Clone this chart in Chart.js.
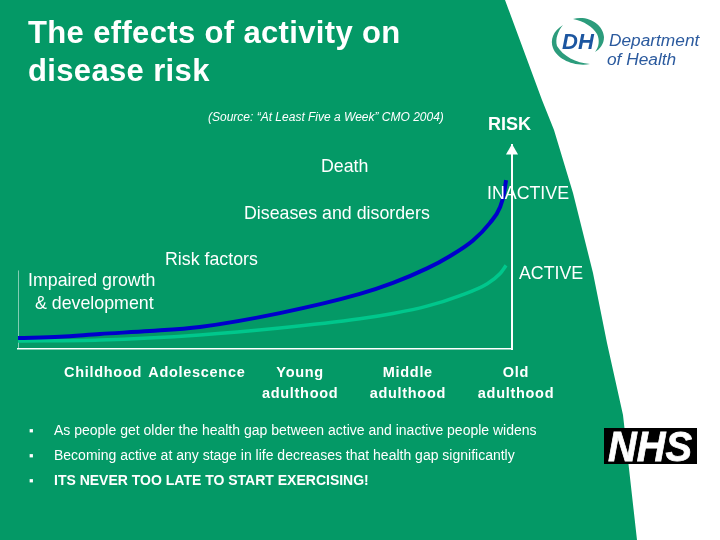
<!DOCTYPE html>
<html><head><meta charset="utf-8">
<style>
html,body{margin:0;padding:0;background:#fff;width:720px;height:540px;overflow:hidden}
#wrap{position:relative;width:720px;height:540px;font-family:"Liberation Sans",Arial,sans-serif;color:#fff;overflow:hidden}
#bg{position:absolute;inset:0;background:#049966;clip-path:polygon(0 0,505px 0,542px 100px,554px 130px,573px 193px,593px 273px,607px 343px,623px 415px,637px 540px,0 540px)}
canvas{position:absolute;left:0;top:0}
.t{position:absolute;white-space:nowrap;transform:translateY(-50%);line-height:1}
svg{position:absolute;left:0;top:0}
</style></head><body>
<div id="wrap"><div id="bg"></div><canvas id="c" width="720" height="540"></canvas><div id="txt"></div>
<svg width="720" height="540" viewBox="0 0 720 540">
<path d="M563 25 C553 31 550 40 553 48 C557 59 574 67 590 64 C576 63 563 56 557 46 C555 39 558 31 563 25Z" fill="#2c9c7c"/>
<path d="M573 19 C588 15 603 24 604 37 C604 44 600 49 595 52 C599 47 600 40 597 34 C593 27 584 21 573 19Z" fill="#2c9c7c"/>
<text x="578" y="49" font-family="Liberation Sans" font-weight="bold" font-style="italic" font-size="22" fill="#1c56a0" text-anchor="middle">DH</text>
<text x="609" y="46" font-family="Liberation Sans" font-style="italic" font-size="17.3" fill="#2b5a9e">Department</text>
<text x="607" y="65" font-family="Liberation Sans" font-style="italic" font-size="17.3" fill="#2b5a9e">of Health</text>
<rect x="604" y="428" width="93" height="36" fill="#000"/>
<text x="650" y="461" font-family="Liberation Sans" font-weight="bold" font-style="italic" font-size="43" fill="#fff" stroke="#fff" stroke-width=".8" text-anchor="middle" textLength="84" lengthAdjust="spacingAndGlyphs">NHS</text>
</svg></div>
<script src="https://cdn.jsdelivr.net/npm/chart.js@4/dist/chart.umd.min.js"></script>
<script>
const lifeStagePositions = [16.4, 35.4, 56.3, 78.1, 100];
const lifeStageLabels = [["Childhood"], ["Adolescence"], ["Young", "adulthood"], ["Middle", "adulthood"], ["Old", "adulthood"]];
const inactiveAge = [0, 8.5, 16.6, 26.7, 36.8, 53, 69.2, 75.9, 82.8, 87.4, 92.1, 95.5, 97.6, 98.4, 98.8];
const inactiveRisk = [5.4, 6, 7.4, 8.8, 10.8, 17.6, 27, 32.4, 39.5, 45.5, 53.2, 61.7, 69.6, 76.5, 82.8];
const activeAge = [0, 16.6, 36.8, 53, 69.2, 75.9, 82.8, 89.5, 95, 97.6, 98.8];
const activeRisk = [3.9, 4.4, 6.9, 10.3, 14.8, 17.4, 21, 26.2, 32, 37, 41];
const pair = (xs, ys) => xs.map((x, i) => ({x, y: ys[i]}));

const slideTexts = [
 ["The effects of activity on", 28, 33, "bold 31px", .35],
 ["disease risk", 28, 71, "bold 31px", .35],
 ["(Source: \u201cAt Least Five a Week\u201d CMO 2004)", 208, 117, "italic 12px", 0],
 ["RISK", 488, 124, "bold 18px", 0],
 ["Death", 321, 166, "17.8px", 0],
 ["INACTIVE", 487, 193, "17.8px", 0],
 ["Diseases and disorders", 244, 213, "17.8px", 0],
 ["Risk factors", 165, 259, "17.8px", 0],
 ["ACTIVE", 519, 273, "17.8px", 0],
 ["Impaired growth", 28, 280, "17.8px", 0],
 ["& development", 35, 303, "17.8px", 0],
 ["\u25AA", 29, 430, "13px", 0],
 ["As people get older the health gap between active and inactive people widens", 54, 430, "14px", 0],
 ["\u25AA", 29, 455, "13px", 0],
 ["Becoming active at any stage in life decreases that health gap significantly", 54, 455, "14px", 0],
 ["\u25AA", 29, 480, "13px", 0],
 ["ITS NEVER TOO LATE TO START EXERCISING!", 54, 480, "bold 14px", 0]
];
const box = document.getElementById('txt');
slideTexts.forEach(([s, x, y, f, ls]) => {
  const e = document.createElement('div'); e.className = 't'; e.textContent = s;
  e.style.left = x + 'px'; e.style.top = y + 'px';
  e.style.font = f + ' "Liberation Sans",Arial,sans-serif'; e.style.letterSpacing = ls + 'px';
  box.appendChild(e);
});

new Chart(document.getElementById('c'), {
  type: 'scatter',
  data: { datasets: [
    { label: 'INACTIVE', data: pair(inactiveAge, inactiveRisk), showLine: true, borderColor: '#0000cc', borderWidth: 4, pointRadius: 0, cubicInterpolationMode: 'monotone', order: 1 },
    { label: 'ACTIVE', data: pair(activeAge, activeRisk), showLine: true, borderColor: '#00c78c', borderWidth: 3.5, pointRadius: 0, cubicInterpolationMode: 'monotone', order: 2 },
    { label: 'left axis', data: [{x: 0, y: 0}, {x: 0, y: 38.5}], showLine: true, borderColor: '#fff', borderWidth: 1, pointRadius: 0, order: 3 },
    { label: 'arrow', data: [{x: 100, y: 97}], pointStyle: 'triangle', pointRadius: 7, backgroundColor: '#fff', borderColor: '#fff', borderWidth: 0, clip: false, order: 3 }
  ]},
  options: {
    responsive: false, animation: false, devicePixelRatio: 1,
    layout: { padding: { left: 18, right: 208, top: 145, bottom: 0 } },
    plugins: { legend: { display: false }, tooltip: { enabled: false } },
    scales: {
      x: {
        type: 'linear', min: 0, max: 100,
        grid: { display: false }, border: { display: true, color: '#fff', width: 1.5 },
        afterFit: s => { s.height = 191; },
        afterBuildTicks: s => { s.ticks = lifeStagePositions.map(v => ({value: v})); },
        ticks: { autoSkip: false, maxRotation: 0, padding: 5, labelOffset: 4, color: '#fff',
          font: { family: 'Liberation Sans', weight: 'bold', size: 14.5, lineHeight: 1.45 },
          callback: (v, i) => lifeStageLabels[i] }
      },
      y: {
        type: 'linear', position: 'right', min: 0, max: 100,
        grid: { display: false }, border: { display: true, color: '#fff', width: 2 },
        ticks: { display: false }, afterFit: s => { s.width = 0; }
      }
    }
  },
  plugins: [{ id: 'spacing', beforeDraw: c => { c.ctx.letterSpacing = '0.7px'; } }]
});
</script></body></html>
